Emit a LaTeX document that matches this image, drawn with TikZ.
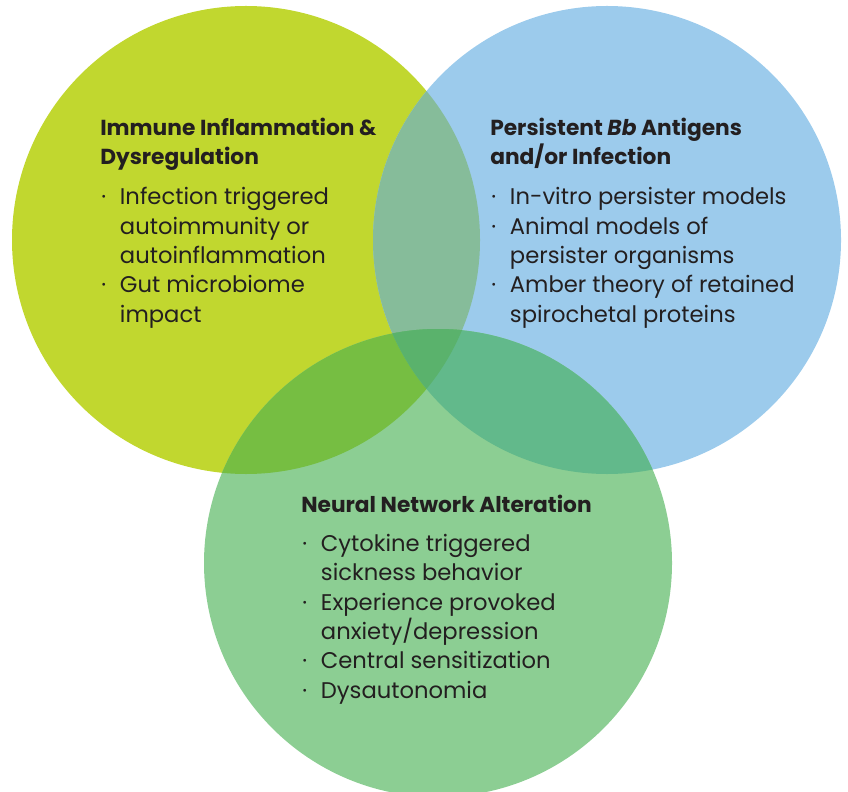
\documentclass[tikz,border=0pt]{standalone}
\usepackage{fontspec}
\setmainfont{Poppins}
\definecolor{limefill}{HTML}{C1D72F}
\definecolor{skyfill}{HTML}{9CCBEC}
\definecolor{leaffill}{HTML}{8CCE93}
\definecolor{limesky}{HTML}{86BC9A}
\definecolor{limeleaf}{HTML}{76BE42}
\definecolor{skyleaf}{HTML}{62B98B}
\definecolor{allthree}{HTML}{5AB26C}
\definecolor{ink}{HTML}{231F20}
\newcommand{\bul}{\makebox[14pt][l]{·}}
\newcommand{\ind}{\hspace*{14pt}}
\begin{document}
\begin{tikzpicture}[x=0.75pt,y=-0.75pt,
  heading/.style={inner sep=0pt, anchor=base west, align=left, text=ink,
    font=\bfseries\fontsize{16.3}{22.2}\selectfont},
  itemlist/.style={inner sep=0pt, anchor=base west, align=left, text=ink,
    font=\fontsize{17}{22}\selectfont}]
\useasboundingbox (0,0) rectangle (848,791);
\clip (0,0) rectangle (848,791);
% circle centres, radius 234 px
\coordinate (cA) at (246,240);
\coordinate (cB) at (607,240);
\coordinate (cC) at (438,563);
\def\rad{175.5pt}
% single circles
\fill[limefill] (cA) circle[radius=\rad];
\fill[skyfill] (cB) circle[radius=\rad];
\fill[leaffill] (cC) circle[radius=\rad];
% pairwise overlaps
\begin{scope}
  \clip (cA) circle[radius=\rad];
  \fill[limesky] (cB) circle[radius=\rad];
  \fill[limeleaf] (cC) circle[radius=\rad];
\end{scope}
\begin{scope}
  \clip (cB) circle[radius=\rad];
  \fill[skyleaf] (cC) circle[radius=\rad];
\end{scope}
% centre overlap
\begin{scope}
  \clip (cA) circle[radius=\rad];
  \clip (cB) circle[radius=\rad];
  \fill[allthree] (cC) circle[radius=\rad];
\end{scope}
% texts (each node is placed at the baseline of its last line)
\node[heading] (immT) at (100,165) {Immune Inflammation \&\\Dysregulation};
\node[itemlist] (immL) at (101,322) {\bul Infection triggered\\
  \ind autoimmunity or\\
  \ind autoinflammation\\
  \bul Gut microbiome\\
  \ind impact};
\node[heading] (bbT) at (490,165) {Persistent \textit{Bb} Antigens\\and/or Infection};
\node[itemlist] (bbL) at (491,322) {\bul In-vitro persister models\\
  \bul Animal models of\\
  \ind persister organisms\\
  \bul Amber theory of retained\\
  \ind spirochetal proteins};
\node[heading] (nnT) at (301,512) {Neural Network Alteration};
\node[itemlist] (nnL) at (302,698) {\bul Cytokine triggered\\
  \ind sickness behavior\\
  \bul Experience provoked\\
  \ind anxiety/depression\\
  \bul Central sensitization\\
  \bul Dysautonomia};
\end{tikzpicture}
\end{document}
